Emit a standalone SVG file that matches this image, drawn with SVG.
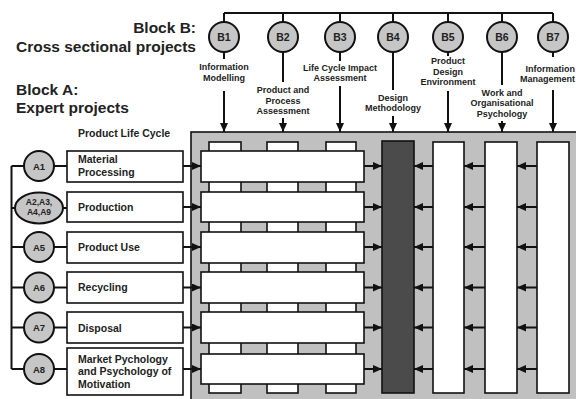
<svg xmlns="http://www.w3.org/2000/svg" width="576" height="399" viewBox="0 0 576 399">
<defs>
<marker id="ah" markerUnits="userSpaceOnUse" markerWidth="9" markerHeight="8" viewBox="0 0 9 8" refX="9" refY="4" orient="auto">
<path d="M0,0 L9,4 L0,8 z" fill="#111"/>
</marker>
<style>
text{font-family:"Liberation Sans",Arial,sans-serif;font-weight:bold;fill:#222}
.big{font-size:15.5px}
.lc{font-size:10.5px}
.lbl{font-size:9px;text-anchor:middle}
.cn{font-size:10.5px;text-anchor:middle}
.an{font-size:9.5px;text-anchor:middle}
.an2{font-size:8.5px;text-anchor:middle}
.ln{stroke:#111;stroke-width:2;fill:none}
.arr{stroke:#111;stroke-width:2;fill:none;marker-end:url(#ah)}
.circ{fill:#c6c6c6;stroke:#111;stroke-width:2}
.box{fill:#fff;stroke:#111;stroke-width:1.6}
</style>
</defs>
<rect width="576" height="399" fill="#fff"/>

<g id="titles">
<text class="big" x="196" y="33" text-anchor="end">Block B:</text>
<text class="big" x="196" y="52" text-anchor="end">Cross sectional projects</text>
<text class="big" x="16" y="95">Block A:</text>
<text class="big" x="16" y="113">Expert projects</text>
<text class="lc" x="78" y="137">Product Life Cycle</text>
</g>

<g id="workspace">
<rect x="191" y="132" width="390" height="272" fill="#c0c0c0" stroke="#111" stroke-width="1.6"/>
<rect class="box" x="209" y="142" width="32" height="251"/>
<rect class="box" x="267" y="142" width="31" height="251"/>
<rect class="box" x="326" y="142" width="30" height="251"/>
<rect x="382" y="141" width="32" height="252" fill="#4b4b4b" stroke="#111" stroke-width="1.6"/>
<rect class="box" x="433" y="142" width="31" height="251"/>
<rect class="box" x="485" y="142" width="32" height="251"/>
<rect class="box" x="537" y="142" width="32" height="251"/>
</g>

<g id="rows">
<rect class="box" x="201" y="151" width="163" height="31"/>
<rect class="box" x="201" y="192" width="163" height="30"/>
<rect class="box" x="201" y="232" width="163" height="31"/>
<rect class="box" x="201" y="272" width="163" height="31"/>
<rect class="box" x="201" y="312" width="163" height="31"/>
<rect class="box" x="201" y="354" width="163" height="30"/>
</g>

<g id="A1">
<circle class="circ" cx="39" cy="166" r="15"/>
<text class="an" x="39" y="169.5">A1</text>
<rect class="box" x="67" y="151" width="116" height="31"/>
<text class="lc" x="78" y="163">Material</text>
<text class="lc" x="78" y="175.5">Processing</text>
</g>
<g id="A2">
<ellipse class="circ" cx="39" cy="208" rx="24" ry="15.5"/>
<text class="an2" x="39" y="205">A2,A3,</text>
<text class="an2" x="39" y="215">A4,A9</text>
<rect class="box" x="67" y="192" width="116" height="30"/>
<text class="lc" x="78" y="211">Production</text>
</g>
<g id="A5">
<circle class="circ" cx="39" cy="247" r="15"/>
<text class="an" x="39" y="250.5">A5</text>
<rect class="box" x="67" y="232" width="116" height="31"/>
<text class="lc" x="78" y="251">Product Use</text>
</g>
<g id="A6">
<circle class="circ" cx="39" cy="287.5" r="15"/>
<text class="an" x="39" y="291">A6</text>
<rect class="box" x="67" y="272" width="116" height="31"/>
<text class="lc" x="78" y="291">Recycling</text>
</g>
<g id="A7">
<circle class="circ" cx="39" cy="327.5" r="15"/>
<text class="an" x="39" y="331">A7</text>
<rect class="box" x="67" y="312" width="116" height="31"/>
<text class="lc" x="78" y="331.5">Disposal</text>
</g>
<g id="A8">
<circle class="circ" cx="39" cy="369" r="15"/>
<text class="an" x="39" y="372.5">A8</text>
<rect class="box" x="67" y="348" width="116" height="47"/>
<text class="lc" x="78" y="362.5">Market Pychology</text>
<text class="lc" x="78" y="375">and Psychology of</text>
<text class="lc" x="78" y="387.5">Motivation</text>
</g>

<g id="B1"><circle class="circ" cx="224" cy="37" r="15"/><text class="cn" x="224" y="41">B1</text>
<text class="lbl" x="224" y="70">Information</text><text class="lbl" x="224" y="80.5">Modelling</text></g>
<g id="B2"><circle class="circ" cx="283" cy="37" r="15"/><text class="cn" x="283" y="41">B2</text>
<text class="lbl" x="283" y="93">Product and</text><text class="lbl" x="283" y="103.5">Process</text><text class="lbl" x="283" y="114">Assessment</text></g>
<g id="B3"><circle class="circ" cx="340" cy="37" r="15"/><text class="cn" x="340" y="41">B3</text>
<text class="lbl" x="340" y="71">Life Cycle Impact</text><text class="lbl" x="340" y="81">Assessment</text></g>
<g id="B4"><circle class="circ" cx="393" cy="37" r="15"/><text class="cn" x="393" y="41">B4</text>
<text class="lbl" x="393" y="101">Design</text><text class="lbl" x="393" y="111">Methodology</text></g>
<g id="B5"><circle class="circ" cx="448" cy="37" r="15"/><text class="cn" x="448" y="41">B5</text>
<text class="lbl" x="448" y="64">Product</text><text class="lbl" x="448" y="74.5">Design</text><text class="lbl" x="448" y="85">Environment</text></g>
<g id="B6"><circle class="circ" cx="502" cy="37" r="15"/><text class="cn" x="502" y="41">B6</text>
<text class="lbl" x="502" y="95.5">Work and</text><text class="lbl" x="502" y="106">Organisational</text><text class="lbl" x="502" y="116.5">Psychology</text></g>
<g id="B7"><circle class="circ" cx="553" cy="37" r="15"/><text class="cn" x="553" y="41">B7</text>
<text class="lbl" x="575" y="72" text-anchor="end" style="text-anchor:end">Information</text><text class="lbl" x="575" y="82" style="text-anchor:end">Management</text></g>

<g id="connectors">
<path class="ln" d="M224,13 H553 M224,13 V22 M283,13 V22 M340,13 V22 M393,13 V22 M448,13 V22 M502,13 V22 M553,13 V22"/>
<path class="ln" d="M224,52 V59 M283,52 V82 M340,52 V61 M393,52 V90 M448,52 V56 M502,52 V85 M553,52 V57"/>
<path class="arr" d="M224,91 V132"/>
<path class="arr" d="M283,118 V132"/>
<path class="arr" d="M340,86 V132"/>
<path class="arr" d="M393,116 V132"/>
<path class="arr" d="M448,91 V132"/>
<path class="arr" d="M502,121 V132"/>
<path class="arr" d="M553,90 V132"/>
<path class="ln" d="M11.5,166 V369 M11.5,166 H24 M11.5,208 H15 M11.5,247 H24 M11.5,287.5 H24 M11.5,327.5 H24 M11.5,369 H24"/>
<path class="ln" d="M54,166 H67 M63,208 H67 M54,247 H67 M54,287.5 H67 M54,327.5 H67 M54,369 H67"/>
<path class="arr" d="M183,166 H201"/><path class="arr" d="M183,207 H201"/><path class="arr" d="M183,247 H201"/>
<path class="arr" d="M183,287.5 H201"/><path class="arr" d="M183,327.5 H201"/><path class="arr" d="M183,369 H201"/>
<path class="arr" d="M364,166 H382"/><path class="arr" d="M364,207 H382"/><path class="arr" d="M364,247 H382"/>
<path class="arr" d="M364,287.5 H382"/><path class="arr" d="M364,327.5 H382"/><path class="arr" d="M364,369 H382"/>
<path class="arr" d="M433,166 H414"/><path class="arr" d="M433,207 H414"/><path class="arr" d="M433,247 H414"/>
<path class="arr" d="M433,287.5 H414"/><path class="arr" d="M433,327.5 H414"/><path class="arr" d="M433,369 H414"/>
<path class="arr" d="M485,166 H464"/><path class="arr" d="M485,207 H464"/><path class="arr" d="M485,247 H464"/>
<path class="arr" d="M485,287.5 H464"/><path class="arr" d="M485,327.5 H464"/><path class="arr" d="M485,369 H464"/>
<path class="arr" d="M537,166 H517"/><path class="arr" d="M537,207 H517"/><path class="arr" d="M537,247 H517"/>
<path class="arr" d="M537,287.5 H517"/><path class="arr" d="M537,327.5 H517"/><path class="arr" d="M537,369 H517"/>
</g>
</svg>
